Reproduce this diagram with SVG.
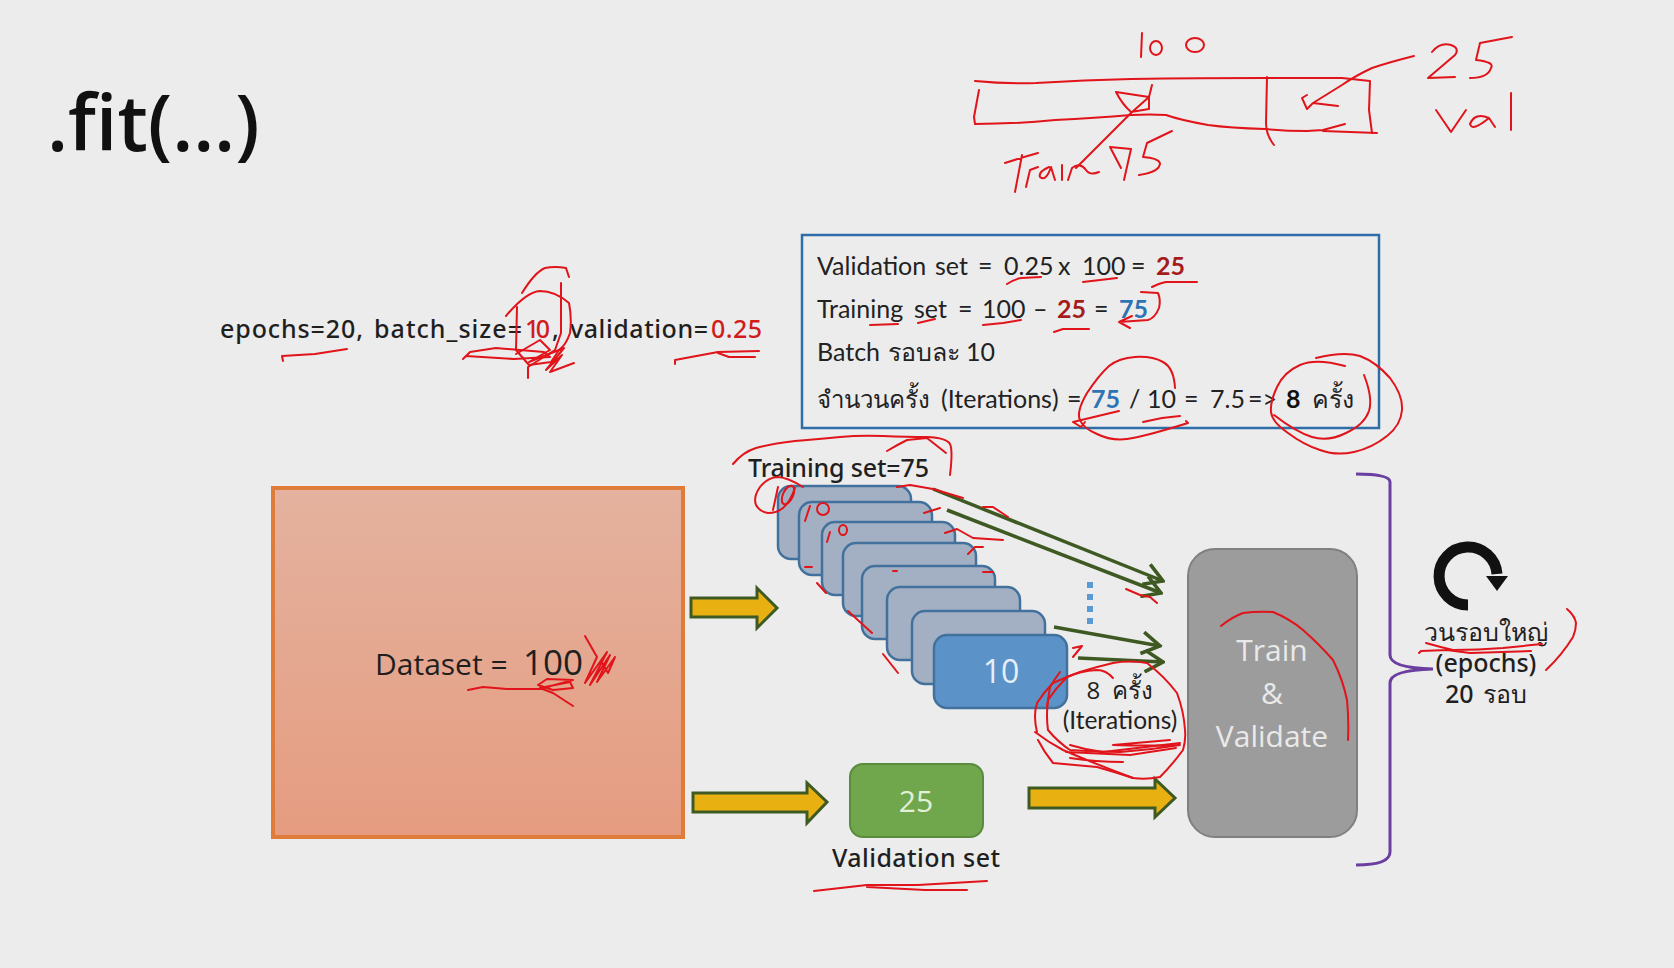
<svg xmlns="http://www.w3.org/2000/svg" width="1674" height="968" viewBox="0 0 1674 968">
<style>
text{font-family:"Open Sans","Noto Sans",sans-serif;fill:#1f1f1f}
.k{font-family:Lato,"Open Sans",sans-serif;font-size:25px;fill:#222}
.r{fill:#a51c1c;font-weight:700}
.b{fill:#2e74b5;font-weight:700}
.w{fill:#e9e9e9;font-size:30px;text-anchor:middle}
.t{font-family:"Noto Sans","Open Sans",sans-serif;font-size:25px;font-weight:500}
.red{fill:#d01c1c}
.card{fill:#a3b0c3;stroke:#41719c;stroke-width:2.5}
.y{fill:#e8b010;stroke:#3e5a22;stroke-width:3}
.g{fill:none;stroke:#3e5a22;stroke-width:3.5}
.ink{fill:none;stroke:#e0141a;stroke-width:2;stroke-linecap:round;stroke-linejoin:round}
</style>
<defs>
<linearGradient id="ds" x1="0" y1="0" x2="0" y2="1"><stop offset="0" stop-color="#e4b29f"/><stop offset="1" stop-color="#e59c80"/></linearGradient>
<marker id="open" viewBox="0 0 20 20" refX="18" refY="10" markerWidth="24" markerHeight="24" markerUnits="userSpaceOnUse" orient="auto"><path d="M3 1L18 10L3 19" fill="none" stroke="#3e5a22" stroke-width="3"/></marker>
</defs>
<rect width="1674" height="968" fill="#ececec"/>
<text id="title" x="47" y="151" font-size="77" font-weight="600" style="fill:#111">.fit(…)</text>
<g id="params">
<text class="t" x="220" y="338" textLength="143">epochs=20,</text>
<text class="t" x="374" y="338" textLength="148">batch_size=</text>
<text class="t red" x="525" y="338" textLength="25">10</text>
<text class="t" x="552" y="338">,</text>
<text class="t" x="570" y="338" textLength="138">validation=</text>
<text class="t red" x="711" y="338" textLength="51">0.25</text>
</g>
<g id="info">
<rect x="802" y="235" width="577" height="193" fill="none" stroke="#2e6da8" stroke-width="2.5"/>
<text class="k" y="275"><tspan x="817">Validation</tspan><tspan x="935">set</tspan><tspan x="978">=</tspan><tspan x="1004">0.25</tspan><tspan x="1058">x</tspan><tspan x="1082">100</tspan><tspan x="1131">=</tspan><tspan x="1156" class="r">25</tspan></text>
<text class="k" y="318"><tspan x="817">Training</tspan><tspan x="914">set</tspan><tspan x="958">=</tspan><tspan x="982">100</tspan><tspan x="1033">–</tspan><tspan x="1057" class="r">25</tspan><tspan x="1094">=</tspan><tspan x="1119" class="b">75</tspan></text>
<text class="k" y="361"><tspan x="817">Batch</tspan><tspan x="888">รอบละ</tspan><tspan x="966">10</tspan></text>
<text class="k" y="408"><tspan x="817" style="font-size:24px">จำนวนครั้ง</tspan><tspan x="941">(Iterations)</tspan><tspan x="1067">=</tspan><tspan x="1091" class="b">75</tspan><tspan x="1129">/</tspan><tspan x="1147">10</tspan><tspan x="1184">=</tspan><tspan x="1210">7.5</tspan><tspan x="1248">=&gt;</tspan><tspan x="1286" font-weight="700" style="fill:#111">8</tspan><tspan x="1312">ครั้ง</tspan></text>
</g>
<g id="dataset"><rect x="273" y="488" width="410" height="349" fill="url(#ds)" stroke="#e07c3a" stroke-width="4"/><text y="675"><tspan x="375" font-size="30">Dataset =</tspan><tspan x="523" font-size="35">100</tspan></text></g>
<g id="training-label"><text class="t" x="748" y="477" textLength="181">Training set=75</text></g>
<g id="batches">
<rect class="card" x="778" y="486" width="133" height="73" rx="13"/>
<rect class="card" x="799" y="502" width="133" height="73" rx="13"/>
<rect class="card" x="822" y="522" width="133" height="73" rx="13"/>
<rect class="card" x="843" y="543" width="133" height="73" rx="13"/>
<rect class="card" x="862" y="566" width="133" height="73" rx="13"/>
<rect class="card" x="887" y="587" width="133" height="73" rx="13"/>
<rect class="card" x="912" y="611" width="133" height="73" rx="13"/>
<rect x="934" y="635" width="133" height="73" rx="13" fill="#5b93c8" stroke="#41719c" stroke-width="2.5"/>
<text x="1001" y="683" font-size="32" text-anchor="middle" style="fill:#e6eff7">10</text>
</g>
<g id="ellipsis" fill="#5b9bd5"><rect x="1087" y="582" width="6" height="6"/><rect x="1087" y="594" width="6" height="6"/><rect x="1087" y="606" width="6" height="6"/><rect x="1087" y="618" width="6" height="6"/></g>
<g id="iterations-label"><text x="1120" y="699" font-size="24" text-anchor="middle" word-spacing="6">8 ครั้ง</text><text x="1120" y="729" class="k" text-anchor="middle" style="font-size:24.5px">(Iterations)</text></g>
<g id="validation"><rect x="850" y="764" width="133" height="73" rx="13" fill="#70a64c" stroke="#5b8b3c" stroke-width="2"/><text x="916" y="812" font-size="30" text-anchor="middle" style="fill:#e2efd9">25</text><text class="t" x="832" y="867" textLength="168">Validation set</text></g>
<g id="train-validate"><rect x="1188" y="549" width="169" height="288" rx="27" fill="#9c9c9c" stroke="#808080" stroke-width="2"/><text class="w" x="1272" y="661">Train</text><text class="w" x="1272" y="704">&amp;</text><text class="w" x="1272" y="747">Validate</text></g>
<g id="loop"><path d="M1468 605A29 29 0 1 1 1497 574" fill="none" stroke="#111" stroke-width="11"/><path d="M1486 576H1508L1497 591Z" fill="#111"/>
<text class="t" x="1486" y="641" text-anchor="middle">วนรอบใหญ่</text><text class="t" x="1486" y="672" text-anchor="middle">(epochs)</text><text class="t" x="1486" y="703" text-anchor="middle" word-spacing="3">20 รอบ</text></g>
<g id="connectors">
<path class="y" d="M691 598H757V588L777 608L757 628V617H691Z"/>
<path class="y" d="M693 793H807V783L827 802L807 823V812H693Z"/>
<path class="y" d="M1029 788H1155V779L1175 798L1155 817V808H1029Z"/>
<path class="g" marker-end="url(#open)" d="M933 489L1163 581"/>
<path class="g" marker-end="url(#open)" d="M947 510L1161 593"/>
<path class="g" marker-end="url(#open)" d="M1054 627L1160 646"/>
<path class="g" marker-end="url(#open)" d="M1078 658L1163 662"/>
<path d="M1356 474Q1390 474 1390 482V655Q1390 668 1433 669Q1390 670 1390 683V852Q1390 865 1356 865" fill="none" stroke="#6a3fa0" stroke-width="3"/>
</g>
<g id="annotations" class="ink">
<path d="M975 81Q1005 84 1036 83Q1085 80 1131 79Q1200 78 1265 78Q1305 78 1342 78L1370 81L1369 110L1372 133"/>
<path d="M1377 133L1323 131M1345 124L1323 130L1307 131Q1285 131 1265 129Q1230 128 1208 125Q1180 120 1166 115Q1150 114 1131 115Q1095 118 1055 120Q1015 124 975 124L974 117L979 90"/>
<path d="M1267 77L1266 123Q1266 135 1274 145"/>
<path d="M1414 56Q1390 62 1372 68Q1355 76 1342 85L1313 103M1338 106L1313 103L1307 109L1302 98L1307 95"/>
<path d="M1076 168L1131 113L1149 97M1116 92L1149 97L1152 85M1149 97L1149 109L1131 112Q1122 104 1116 92"/>
<path d="M1142 33L1141 57"/><ellipse cx="1156" cy="48" rx="6" ry="7"/><ellipse cx="1195" cy="45" rx="9" ry="7"/>
<path d="M1432 52Q1440 42 1451 45Q1460 48 1455 55L1428 78L1455 77M1512 37L1480 43L1476 60Q1495 62 1491 68Q1488 78 1470 78"/>
<path d="M1436 110L1451 132L1466 110M1489 118Q1475 112 1470 124Q1472 132 1489 118L1495 127M1511 93L1511 130"/>
<path d="M1005 163Q1020 158 1038 153M1022 155L1015 192M1026 187L1030 170L1038 167M1049 167Q1038 172 1040 177Q1046 182 1051 167L1055 180M1062 165L1062 180M1068 180L1072 168Q1080 162 1086 170Q1090 176 1099 172"/>
<path d="M1110 147L1131 149L1124 180M1110 147L1121 168M1172 131L1147 143L1143 157Q1158 158 1160 163Q1160 172 1139 175"/>
<path d="M1007 284Q1015 279 1021 278L1041 277M1083 282L1117 278M1152 287Q1160 283 1166 282L1197 282"/>
<path d="M1141 292L1158 293Q1161 300 1159 308Q1155 318 1148 320L1119 322M1130 328L1119 322L1132 316"/>
<path d="M870 325L898 324M918 323L935 319M983 325L1003 323L1021 320M1054 332L1063 329L1089 329"/>
<path d="M1175 388Q1174 368 1163 362Q1152 356 1135 357Q1119 358 1109 366Q1099 375 1087 393Q1076 412 1080 420Q1083 428 1097 434Q1111 441 1127 439Q1143 437 1188 423L1186 421M1143 422L1162 418L1180 416"/>
<path d="M1073 422L1119 411M1073 422L1081 427L1085 422"/>
<path d="M1364 375Q1373 398 1369 411Q1364 425 1346 433Q1328 442 1312 437Q1296 432 1274 415"/>
<path d="M1316 358Q1344 351 1360 356Q1376 362 1390 378Q1403 395 1402 410Q1401 425 1387 436Q1372 448 1354 452Q1336 456 1320 450Q1304 445 1288 433Q1272 422 1271 412Q1270 402 1277 387Q1284 372 1300 365Q1316 358 1345 366"/>
<path d="M283 361L282 356L315 354L347 349"/>
<path d="M675 364L675 360L718 352L759 351M718 353L729 357L755 357"/>
<path d="M506 316Q526 292 540 291Q555 291 569 303Q572 318 570 333Q566 345 559 350L551 362L529 365L516 350L517 307"/>
<path d="M522 293Q535 272 545 268Q555 266 566 268L569 277M561 283L561 333L555 350L528 367L528 378"/>
<path d="M463 359L470 352L496 348L544 352L550 357L514 359L466 356"/>
<path d="M516 354L540 340L550 350L529 362L564 348L546 370L562 355L550 372L574 363"/>
<path d="M733 464Q743 452 756 448Q770 444 795 441Q820 439 840 437Q860 435 883 436Q907 437 927 437Q947 438 950 444Q953 450 950 475"/>
<path d="M887 451Q897 445 907 440L927 438L946 453"/>
<path d="M803 487Q787 477 777 477Q767 478 760 487Q753 497 756 505Q760 512 768 513Q777 513 783 508Q790 502 795 488"/>
<path d="M778 487L773 510"/><ellipse cx="788" cy="495" rx="5" ry="10" transform="rotate(25 788 495)"/>
<path d="M810 506L805 521"/><ellipse cx="823" cy="509" rx="6" ry="6"/>
<path d="M830 532L827 542"/><ellipse cx="843" cy="530" rx="4" ry="5"/>
<path d="M897 487L910 485L933 489L953 495L963 498M983 507L993 507L1008 517M924 513L940 508M945 533L957 529L973 538L1003 540M968 554L975 547L983 547M983 572L993 572M805 567L812 567M893 571L897 571M817 583L826 593M848 611L872 633M883 654L898 673M1126 589L1140 595L1150 597L1157 603M1073 657L1082 646L1073 648"/>
<path d="M1037 732Q1033 716 1037 703Q1044 692 1053 683Q1066 677 1080 672Q1096 667 1113 663Q1130 660 1147 663Q1164 676 1177 693Q1184 712 1185 730Q1186 740 1183 750Q1172 765 1160 777Q1146 780 1133 778Q1115 772 1097 767Q1075 765 1053 763Q1044 752 1038 740"/>
<path d="M1113 678Q1106 670 1097 670Q1080 671 1067 677Q1056 688 1048 700Q1046 716 1048 730Q1058 742 1070 750Q1095 752 1120 752Q1150 750 1180 745Q1145 746 1113 745L1170 740"/>
<path d="M1035 732Q1048 742 1063 750Q1098 765 1133 778M1070 758Q1096 762 1123 762M1060 672Q1054 680 1050 687L1047 707M1066 752L1130 755L1176 748M1070 745Q1086 750 1103 752L1180 743"/>
<path d="M814 891L867 885L918 885L987 881M867 887L925 890L967 890"/>
<path d="M468 690L483 687L507 689L540 689L573 680L547 679L538 685L553 690L573 688L570 682L540 688L553 693L573 706"/>
<path d="M585 636L597 657L585 683L607 652L590 685L610 655L597 682L615 657L608 673L602 663"/>
<path d="M1221 626Q1232 617 1243 613Q1258 611 1273 612Q1290 619 1303 630Q1320 645 1333 660Q1343 680 1347 700Q1349 720 1348 740"/>
<path d="M1426 643Q1440 647 1453 650Q1478 650 1503 648L1542 644M1419 653L1421 651L1447 650L1470 653L1531 651"/>
<path d="M1567 609Q1575 616 1576 623Q1576 630 1573 637Q1562 655 1546 670"/>
</g>
</svg>
